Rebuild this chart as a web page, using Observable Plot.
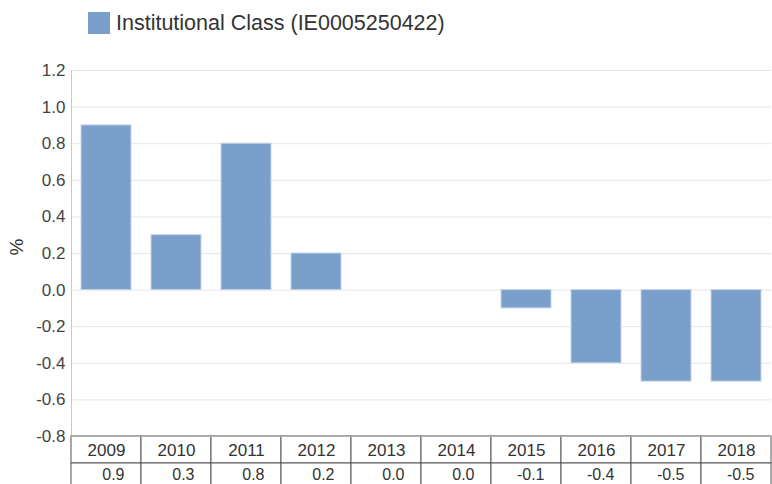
<!DOCTYPE html>
<html><head><meta charset="utf-8">
<script src="https://cdn.jsdelivr.net/npm/d3@7"></script>
<script src="https://cdn.jsdelivr.net/npm/@observablehq/plot@0.6"></script>
<style>
html,body{margin:0;padding:0;background:#fff;overflow:hidden;width:772px;height:484px;}
body{font-family:"Liberation Sans",Arial,sans-serif;position:relative;}
#legend{position:absolute;left:88px;top:12px;display:flex;align-items:center;font-size:21.5px;color:#333;white-space:nowrap;line-height:22px;}
#legend .sw{width:22px;height:22px;background:#7b9fcb;margin-right:6px;}
#chart{position:absolute;left:0;top:0;}
#table{position:absolute;left:0;top:436px;}
#chart svg,#table svg{display:block;}
</style></head>
<body>
<div id="chart"></div>
<div id="table"></div>
<div id="legend"><div class="sw"></div><span>Institutional Class (IE0005250422)</span></div>
<script>
const seriesName = "Institutional Class (IE0005250422)";
const years = ["2009","2010","2011","2012","2013","2014","2015","2016","2017","2018"];
const values = [0.9, 0.3, 0.8, 0.2, 0.0, 0.0, -0.1, -0.4, -0.5, -0.5];
const yTicks = [-0.8,-0.6,-0.4,-0.2,0,0.2,0.4,0.6,0.8,1.0,1.2];

const data = years.map((y,i)=>({year:y, value:values[i]}));
const fmt = d => d.toFixed(1);
const font = "'Liberation Sans', Arial, sans-serif";

function leftLine(index, scales, channels, dims) {
  const ns = "http://www.w3.org/2000/svg";
  const l = document.createElementNS(ns, "line");
  const x = dims.marginLeft + 0.5;
  l.setAttribute("x1", x); l.setAttribute("x2", x);
  l.setAttribute("y1", dims.marginTop); l.setAttribute("y2", dims.height - dims.marginBottom);
  l.setAttribute("stroke", "#c8c8c8");
  return l;
}

const chart = Plot.plot({
  width: 772, height: 484,
  marginTop: 70, marginBottom: 48, marginLeft: 71, marginRight: 1,
  style: {fontFamily: font, fontSize: "17px", background: "#fff"},
  x: {domain: years, padding: 0, axis: null},
  y: {domain: [-0.8, 1.2], axis: null},
  marks: [
    Plot.gridY(yTicks, {stroke: "#e6e6e6", strokeOpacity: 1}),
    Plot.barY(data, {x: "year", y: "value", fill: "#7b9fcb", stroke: "#c3d3e8", strokeWidth: 1, insetLeft: 10, insetRight: 10}),
    Plot.axisY(yTicks, {tickSize: 0, tickPadding: 6, tickFormat: fmt, fontSize: 17, fill: "#444", label: null}),
    leftLine,
    Plot.text(["%"], {frameAnchor: "left", dx: -55, dy: 2, rotate: -90, fontSize: 19, fill: "#333"})
  ]
});
document.getElementById("chart").appendChild(chart);

const rows = ["year", "value"];
const cells = [];
years.forEach((y,i)=>{
  cells.push({year:y, row:"year", label:y});
  cells.push({year:y, row:"value", label:fmt(values[i])});
});

const table = Plot.plot({
  width: 772, height: 54,
  marginTop: 0, marginBottom: 0, marginLeft: 71, marginRight: 1,
  style: {fontFamily: font, fontSize: "17px", background: "transparent", overflow: "visible"},
  x: {domain: years, padding: 0, axis: null},
  y: {domain: rows, padding: 0, axis: null},
  marks: [
    Plot.cell(cells, {x: "year", y: "row", fill: "#fff", stroke: "#555", inset: 0}),
    Plot.ruleY([0], {y: () => "year", stroke: "#b0b0b0", dy: -13.5}),
    Plot.text(cells.filter(d=>d.row==="year"), {x: "year", y: "row", text: "label", fontSize: 17, fill: "#333", dy: 1}),
    Plot.text(cells.filter(d=>d.row==="value"), {x: "year", y: "row", text: "label", fontSize: 16, fill: "#333", textAnchor: "end", dx: 18, dy: -2})
  ]
});
document.getElementById("table").appendChild(table);
</script>
</body></html>
